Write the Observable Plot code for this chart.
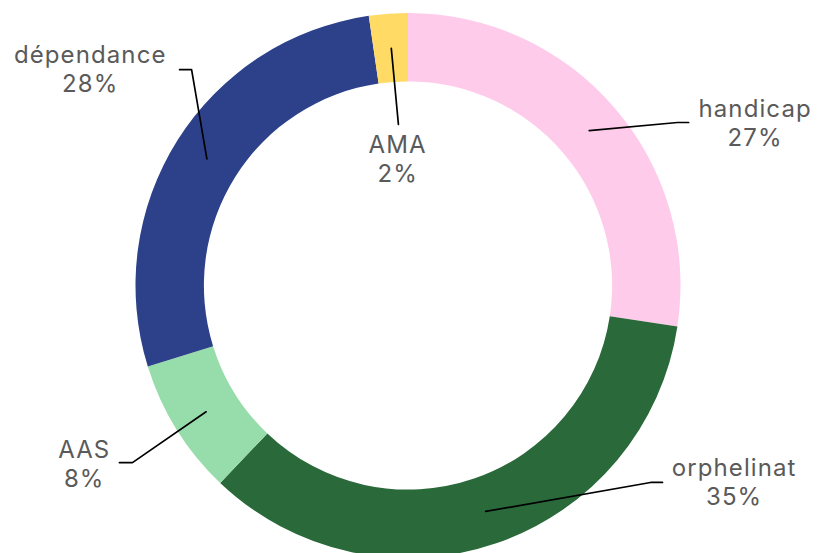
<!DOCTYPE html>
<html>
<head>
<meta charset="utf-8">
<script src="https://cdn.jsdelivr.net/npm/d3@7"></script>
<script src="https://cdn.jsdelivr.net/npm/@observablehq/plot@0.6"></script>
<style>
  html, body { margin: 0; padding: 0; background: #ffffff; }
  #chart svg { display: block; }
  #chart svg text { letter-spacing: 1.1px; }
</style>
</head>
<body>
<div id="chart"></div>
<script>
// ---- data ----
const categories = ["handicap", "orphelinat", "AAS", "dépendance", "AMA"];
const values = [27.4, 34.7, 8.1, 27.5, 2.3];
const percentLabels = ["27%", "35%", "8%", "28%", "2%"];
const colors = ["#ffcbeb", "#2a6939", "#97dcab", "#2c418a", "#ffdb66"];

// ---- layout options (ring-radius units, centre = 0,0) ----
const innerRatio = 0.749;
const labelX = [1.272, 1.195, -1.190, -1.168, -0.040];
const labelY = [0.600, -0.718, -0.652, 0.800, 0.470];
const elbowX = [0.987, 0.888, -1.013, -0.796, -0.037];
const elbowY = [0.600, -0.721, -0.648, 0.794, 0.593];
const endX = [1.028, 0.932, -1.061, -0.840, -0.037];
const endY = [0.600, -0.721, -0.648, 0.794, 0.593];

const W = 817, H = 553;

const table = categories.map((c, i) => ({category: c, value: values[i], pct: percentLabels[i]}));
const arcs = d3.pie().sort(null).value(d => d.value)(table);
const midR = (1 + innerRatio) / 2;

const leaders = [];
arcs.forEach((a, i) => {
  const m = (a.startAngle + a.endAngle) / 2;
  const c = a.data.category;
  leaders.push({category: c, x: midR * Math.sin(m), y: midR * Math.cos(m)});
  leaders.push({category: c, x: elbowX[i], y: elbowY[i]});
  leaders.push({category: c, x: endX[i], y: endY[i]});
});

const labels = table.map((d, i) => ({...d, x: labelX[i], y: labelY[i]}));

function ring(index, scales) {
  const cx = scales.x(0), cy = scales.y(0);
  const R = scales.x(1) - cx;
  const arc = d3.arc().innerRadius(R * innerRatio).outerRadius(R);
  const colorOf = scales.color ? scales.color : d3.scaleOrdinal(categories, colors);
  const g = d3.create("svg:g").attr("transform", `translate(${cx},${cy})`);
  g.selectAll("path").data(arcs).join("path")
    .attr("d", arc)
    .attr("fill", d => colorOf(d.data.category));
  return g.node();
}

const chart = Plot.plot({
  width: W,
  height: H,
  margin: 0,
  x: {domain: [-408 / 272.5, 409 / 272.5], axis: null},
  y: {domain: [-267.5 / 272.5, 285.5 / 272.5], axis: null},
  color: {domain: categories, range: colors},
  style: {background: "#ffffff", fontFamily: "Inter, 'Noto Sans', sans-serif"},
  marks: [
    Plot.dot(table, {x: () => 0, y: () => 0, fill: "category", r: 0}),
    ring,
    Plot.line(leaders, {x: "x", y: "y", z: "category", stroke: "#000000", strokeWidth: 1.7, curve: "linear"}),
    Plot.text(labels, {
      x: "x", y: "y",
      text: d => `${d.category}\n${d.pct}`,
      fontSize: 24,
      lineHeight: 1.2,
      fill: "#5a5a5a",
      textAnchor: "middle",
      lineAnchor: "middle",
      fontFamily: "Inter, 'Noto Sans', sans-serif"
    })
  ]
});
document.getElementById("chart").appendChild(chart);
</script>
</body>
</html>
